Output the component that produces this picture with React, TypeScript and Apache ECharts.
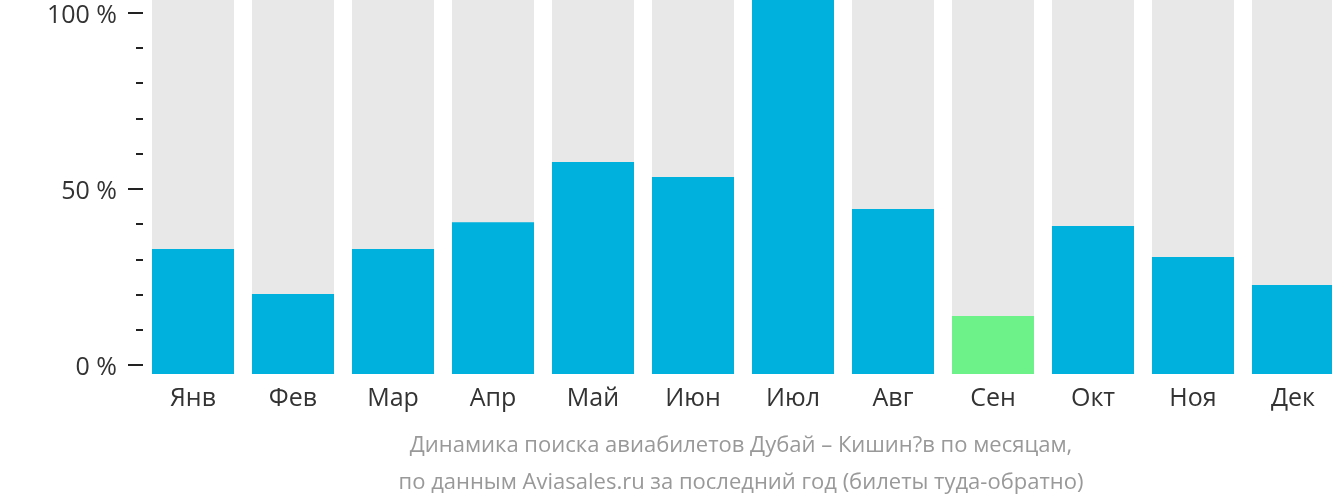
import React, { useEffect, useRef } from "react";
import * as echarts from "echarts";

const months = ["Янв", "Фев", "Мар", "Апр", "Май", "Июн", "Июл", "Авг", "Сен", "Окт", "Ноя", "Дек"];
const values = [33.4, 21.4, 33.4, 40.6, 56.7, 52.7, 100, 44.1, 15.5, 39.6, 31.3, 23.8];
const highlightIndex = 8;
const titleLines = [
  "Динамика поиска авиабилетов Дубай – Кишин?в по месяцам,",
  "по данным Aviasales.ru за последний год (билеты туда-обратно)",
];

const FONT = "'Open Sans', sans-serif";

export default function App() {
  const ref = useRef<HTMLDivElement>(null);
  useEffect(() => {
    if (!ref.current) return;
    const chart = echarts.init(ref.current, null, { renderer: "svg" });
    chart.setOption({
      animation: false,
      textStyle: { fontFamily: FONT },
      grid: [
        { left: 143, top: 0, height: 374, right: 0 },
        { left: 143, top: 8, height: 357, right: 0 },
      ],
      xAxis: [
        {
          gridIndex: 0,
          type: "category",
          data: months,
          axisLine: { show: false },
          axisTick: { show: false },
          axisLabel: { fontSize: 25, color: "#333", margin: 9, fontFamily: FONT },
        },
        { gridIndex: 1, type: "category", data: months, show: false },
      ],
      yAxis: [
        { gridIndex: 0, type: "value", min: 0, max: 100, show: false },
        {
          gridIndex: 1,
          type: "value",
          min: 0,
          max: 100,
          interval: 50,
          axisLine: { show: false },
          splitLine: { show: false },
          axisTick: { show: true, length: 15, lineStyle: { color: "#222", width: 2 } },
          minorTick: { show: true, splitNumber: 5, length: 7, lineStyle: { color: "#222", width: 2 } },
          axisLabel: {
            fontSize: 25,
            color: "#333",
            margin: 26,
            fontFamily: FONT,
            formatter: (v: number) => `${v} %`,
          },
        },
      ],
      series: [
        {
          type: "bar",
          xAxisIndex: 0,
          yAxisIndex: 0,
          barWidth: 82,
          showBackground: true,
          backgroundStyle: { color: "#e8e8e8" },
          data: values.map((v, i) => ({
            value: v,
            itemStyle: { color: i === highlightIndex ? "#6cf289" : "#00b0dd" },
          })),
        },
      ],
      graphic: titleLines.map((t, i) => ({
        type: "text",
        x: 741,
        y: 443 + i * 37,
        style: {
          text: t,
          fill: "#999",
          fontSize: 22,
          fontFamily: FONT,
          textAlign: "center",
          textVerticalAlign: "middle",
        },
      })),
    });
    return () => chart.dispose();
  }, []);
  return (
    <div
      style={{ position: "fixed", left: 0, top: 0, width: 1332, height: 502, overflow: "hidden" }}
    >
      <div ref={ref} style={{ width: 1343, height: 502 }} />
    </div>
  );
}
